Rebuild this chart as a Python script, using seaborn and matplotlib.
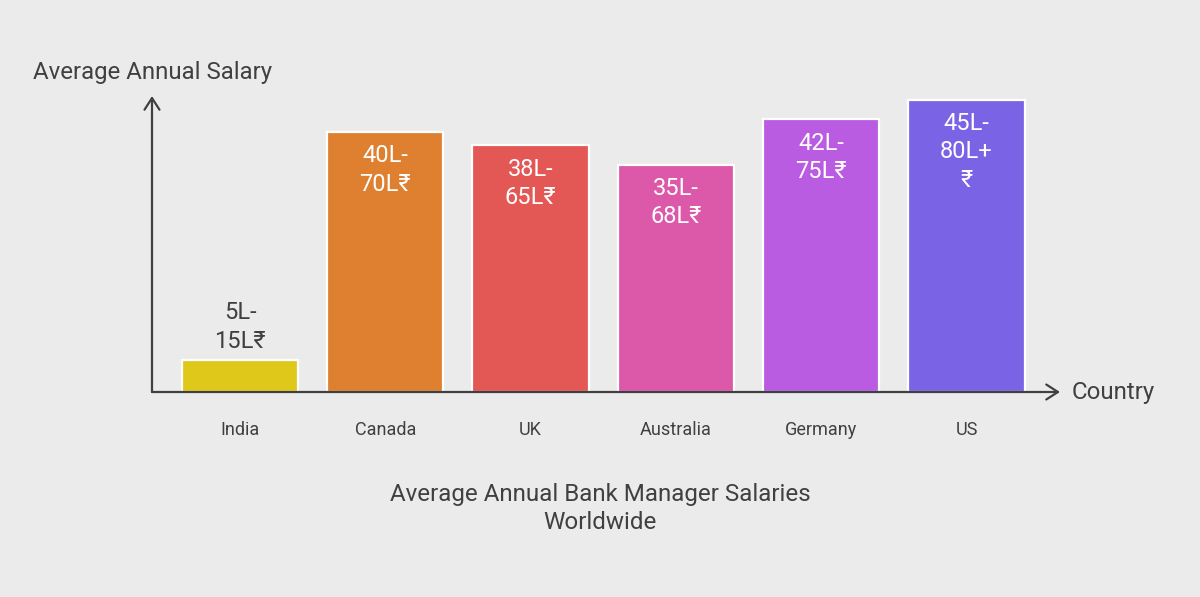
import matplotlib
matplotlib.use("Agg")
import matplotlib.pyplot as plt
import seaborn as sns
import pandas as pd

# ---- data ----
countries = ["India", "Canada", "UK", "Australia", "Germany", "US"]
salary_low = [5, 40, 38, 35, 42, 45]          # bar heights (lower bound, lakh ₹)
bar_labels = ["5L-\n15L₹", "40L-\n70L₹", "38L-\n65L₹", "35L-\n68L₹", "42L-\n75L₹", "45L-\n80L+\n₹"]
colors = ["#e0c81a", "#de8030", "#e35754", "#dc58a8", "#b95ce2", "#7b63e6"]
y_label = "Average Annual Salary"
x_label = "Country"
title = "Average Annual Bank Manager Salaries\nWorldwide"

df = pd.DataFrame({"country": countries, "salary": salary_low})

BG = "#ebebeb"
TXT = "#404040"
FONT = ["Roboto", "DejaVu Sans"]

sns.set_theme(style="white")
plt.rcParams["font.family"] = FONT

W, H = 1200, 597
fig = plt.figure(figsize=(W / 100, H / 100), dpi=100, facecolor=BG)
ax_left, ax_right, ax_bottom, ax_top = 152, 1060, 392, 96
ax = fig.add_axes([ax_left / W, (H - ax_bottom) / H, (ax_right - ax_left) / W, (ax_bottom - ax_top) / H])
ax.set_facecolor(BG)

sns.barplot(data=df, x="country", y="salary", hue="country", palette=colors,
            legend=False, width=0.8, edgecolor="white", linewidth=1.6, ax=ax,
            saturation=1)

step = 145.3
ax.set_xlim((ax_left - 240) / step, (ax_right - 240) / step)
ax.set_ylim(0, (ax_bottom - ax_top) / 6.5)

for s in ax.spines.values():
    s.set_visible(False)
ax.set_yticks([])
ax.set_xlabel("")
ax.set_ylabel("")
ax.tick_params(axis="x", length=0, pad=21, labelsize=13, labelcolor=TXT)

# axis arrows
arrow_kw = dict(arrowstyle="->,head_length=0.7,head_width=0.45", color=TXT, lw=1.6, shrinkA=0, shrinkB=0)
ax.annotate("", xy=(0, 1), xytext=(0, 0), xycoords="axes fraction", arrowprops=arrow_kw, annotation_clip=False)
ax.annotate("", xy=(1, 0), xytext=(0, 0), xycoords="axes fraction", arrowprops=arrow_kw, annotation_clip=False)

# bar labels
for i, (v, lab) in enumerate(zip(salary_low, bar_labels)):
    if v < 10:
        ax.annotate(lab, xy=(i, v), xytext=(0, 5), textcoords="offset points",
                    ha="center", va="bottom", fontsize=17, color=TXT, linespacing=1.3)
    else:
        ax.annotate(lab, xy=(i, v), xytext=(0, -9), textcoords="offset points",
                    ha="center", va="top", fontsize=17, color="white", linespacing=1.3)

fig.text(33 / W, 1 - 73 / H, y_label, ha="left", va="center", fontsize=17.3, color=TXT)
fig.text(1072 / W, 1 - 393 / H, x_label, ha="left", va="center", fontsize=17.3, color=TXT)
fig.text(0.5, 1 - 508.5 / H, title, ha="center", va="center", fontsize=17.4, color=TXT, linespacing=1.3)

fig.savefig("out.png", dpi=100, facecolor=BG)
